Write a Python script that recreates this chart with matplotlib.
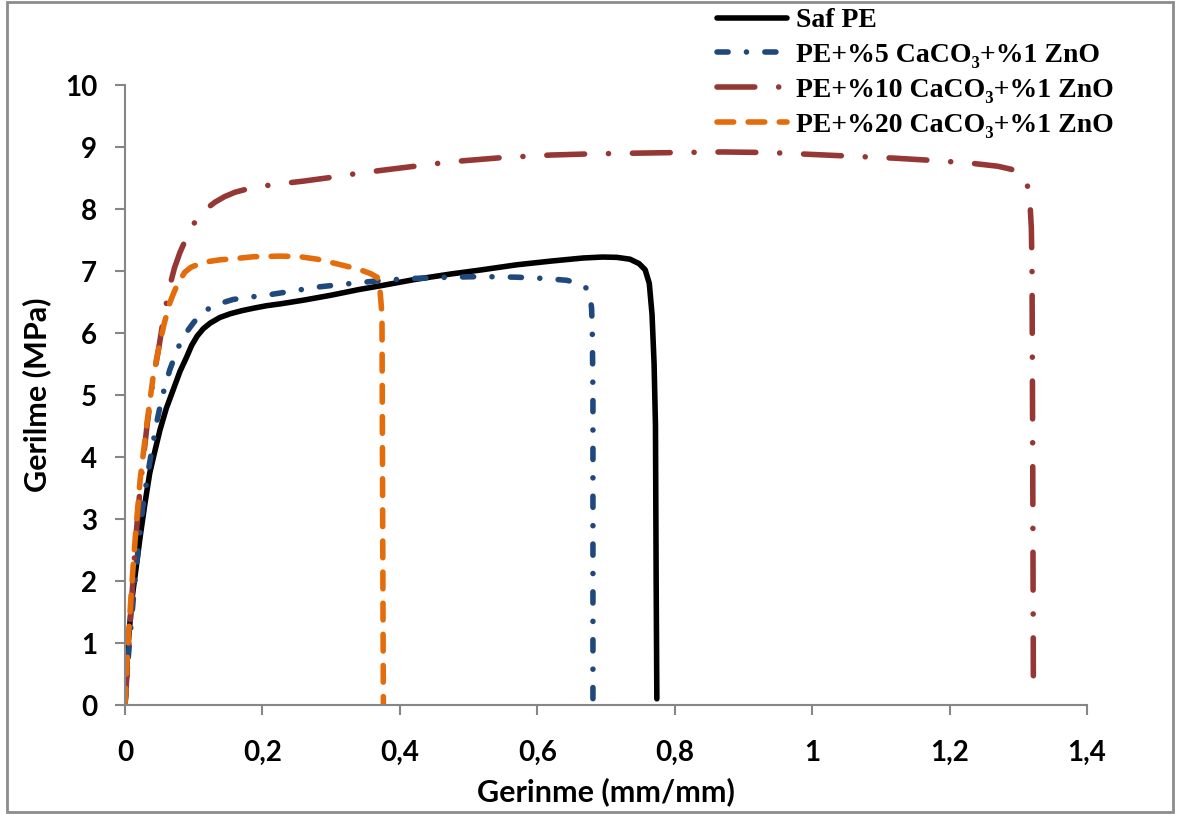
import matplotlib
matplotlib.use("Agg")
import matplotlib.pyplot as plt
from matplotlib.patches import Rectangle

# strain (mm/mm) / stress (MPa)
saf_x = [0, 0.004, 0.01, 0.016, 0.022, 0.029, 0.036, 0.044, 0.051, 0.06, 0.07, 0.08, 0.09,
         0.097, 0.105, 0.114, 0.124, 0.138, 0.153, 0.17, 0.187, 0.206, 0.226, 0.26, 0.3,
         0.34, 0.376, 0.42, 0.473, 0.52, 0.57, 0.62, 0.667, 0.695, 0.716, 0.735, 0.748,
         0.757, 0.763, 0.767, 0.770, 0.772, 0.773, 0.774]
saf_y = [0, 0.9, 1.7, 2.2, 2.71, 3.25, 3.74, 4.12, 4.44, 4.78, 5.08, 5.38, 5.62,
         5.8, 5.95, 6.07, 6.16, 6.25, 6.31, 6.36, 6.40, 6.44, 6.47, 6.53, 6.61,
         6.7, 6.77, 6.86, 6.95, 7.02, 7.1, 7.16, 7.21, 7.225, 7.22, 7.19, 7.12,
         7.02, 6.8, 6.3, 5.5, 4.5, 2.0, 0.1]

pe5_x = [0, 0.005, 0.012, 0.019, 0.026, 0.032, 0.039, 0.046, 0.054, 0.065, 0.077, 0.09,
         0.1, 0.109, 0.12, 0.131, 0.157, 0.182, 0.206, 0.24, 0.279, 0.33, 0.376, 0.42,
         0.473, 0.52, 0.57, 0.61, 0.643, 0.66, 0.672, 0.677, 0.679, 0.680, 0.681, 0.681]
pe5_y = [0, 0.8, 1.7, 2.5, 3.2, 3.65, 4.11, 4.55, 4.97, 5.4, 5.76, 6.02,
         6.17, 6.29, 6.38, 6.45, 6.54, 6.58, 6.61, 6.67, 6.74, 6.8, 6.85, 6.88,
         6.9, 6.91, 6.9, 6.88, 6.85, 6.8, 6.72, 6.6, 6.4, 6.1, 5.0, 0.1]

pe10_x = [0, 0.004, 0.008, 0.015, 0.022, 0.032, 0.041, 0.049, 0.057, 0.065, 0.072, 0.08,
          0.09, 0.1, 0.112, 0.131, 0.145, 0.16, 0.187, 0.221, 0.26, 0.3, 0.342, 0.4,
          0.473, 0.55, 0.619, 0.68, 0.739, 0.8, 0.87, 0.94, 1.0, 1.06, 1.12, 1.18,
          1.23, 1.27, 1.29, 1.305, 1.313, 1.317, 1.319, 1.320, 1.321, 1.322]
pe10_y = [0, 0.7, 1.4, 2.6, 3.5, 4.5, 5.25, 5.75, 6.3, 6.75, 7.05, 7.3,
          7.55, 7.76, 7.95, 8.11, 8.2, 8.27, 8.35, 8.40, 8.45, 8.51, 8.58, 8.66,
          8.76, 8.83, 8.87, 8.89, 8.9, 8.91, 8.92, 8.91, 8.88, 8.85, 8.82, 8.78,
          8.74, 8.69, 8.64, 8.54, 8.4, 8.1, 7.7, 7.0, 4.0, 0.2]

pe20_x = [0, 0.004, 0.009, 0.015, 0.022, 0.032, 0.041, 0.049, 0.057, 0.065, 0.071, 0.077,
          0.087, 0.096, 0.105, 0.12, 0.138, 0.16, 0.187, 0.226, 0.255, 0.28, 0.303, 0.325,
          0.342, 0.357, 0.367, 0.371, 0.374, 0.375, 0.376]
pe20_y = [0, 0.9, 1.8, 2.71, 3.63, 4.55, 5.3, 5.75, 6.15, 6.48, 6.65, 6.8,
          6.98, 7.06, 7.1, 7.15, 7.18, 7.2, 7.23, 7.24, 7.23, 7.19, 7.13, 7.07,
          7.02, 6.96, 6.9, 6.7, 6.3, 3.0, 0.0]

labels = ["Saf PE", "PE+%5 CaCO\u2083+%1 ZnO", "PE+%10 CaCO\u2083+%1 ZnO", "PE+%20 CaCO\u2083+%1 ZnO"]
xticks = [0, 0.2, 0.4, 0.6, 0.8, 1.0, 1.2, 1.4]
xtick_labels = ["0", "0,2", "0,4", "0,6", "0,8", "1", "1,2", "1,4"]
yticks = list(range(0, 11))

fig = plt.figure(figsize=(11.77, 8.14), dpi=100)
ax = fig.add_axes([125 / 1177, 109 / 814, 962 / 1177, 620 / 814])

lw = 4
ax.plot(saf_x, saf_y, color="#000000", lw=lw, solid_capstyle="round",
        solid_joinstyle="round", label=labels[0])
ax.plot(pe5_x, pe5_y, color="#1F497D", lw=lw, dashes=(2.0, 3.3, 0.01, 3.3),
        dash_capstyle="round", label=labels[1])
ax.plot(pe10_x, pe10_y, color="#953735", lw=lw, dashes=(6.8, 4.3, 0.01, 4.3),
        dash_capstyle="round", label=labels[2])
ax.plot(pe20_x, pe20_y, color="#E46C0A", lw=lw, dashes=(3.0, 2.6),
        dash_capstyle="round", label=labels[3])

ax.set_xlim(0, 1.4)
ax.set_ylim(0, 10)
ax.set_xticks(xticks)
ax.set_xticklabels(xtick_labels)
ax.set_yticks(yticks)

for t in ax.get_xticklabels() + ax.get_yticklabels():
    t.set_fontfamily("Lato")
    t.set_fontweight("bold")
    t.set_fontsize(20)

for s in ["top", "right"]:
    ax.spines[s].set_visible(False)
for s in ["left", "bottom"]:
    ax.spines[s].set_color("#868686")
    ax.spines[s].set_linewidth(1.5)
ax.tick_params(axis="both", direction="out", length=7, width=1.5, color="#868686")
ax.tick_params(axis="x", pad=18)
ax.tick_params(axis="y", pad=13)

ax.set_xlabel("Gerinme (mm/mm)", fontfamily="Lato", fontweight="bold", fontsize=22, labelpad=8)
ax.set_ylabel("Gerilme (MPa)", fontfamily="Lato", fontweight="bold", fontsize=22, labelpad=10)

fig.legend(loc="upper left", bbox_to_anchor=(706 / 1177, 1.004), frameon=False,
           prop=dict(family=["Liberation Serif", "DejaVu Serif"], weight="bold", size=20),
           handlelength=2.5, handletextpad=0.35, labelspacing=0.34, borderaxespad=0)

fig.patches.append(Rectangle((0.006, 0.002), 0.991, 0.996, transform=fig.transFigure,
                             fill=False, edgecolor="#8c8c8c", lw=2))

fig.savefig("out.png", dpi=100)
